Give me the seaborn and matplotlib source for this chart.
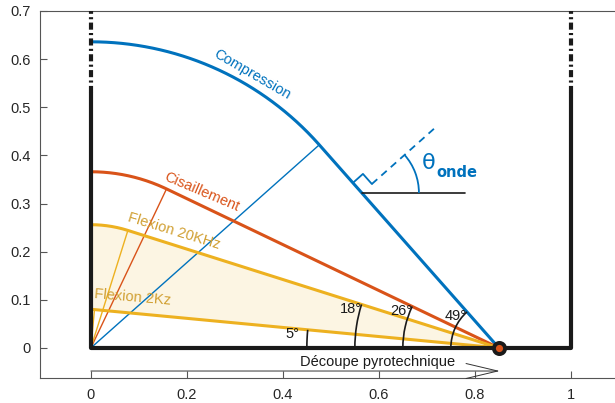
import numpy as np
import pandas as pd
import matplotlib
matplotlib.use("Agg")
import matplotlib.pyplot as plt
import seaborn as sns
from matplotlib.patches import Arc

# Wave fronts emitted from the pyrotechnic cut source
WAVE_NAMES = ["Compression", "Cisaillement", "Flexion 20KHz", "Flexion 2Kz"]
FRONT_RADIUS = [0.636, 0.366, 0.256, 0.080]
WAVE_COLORS = ["#0072BD", "#D95319", "#EDB120", "#EDB120"]
TEXT_COLORS = ["#0072BD", "#D95319", "#D1A033", "#D1A033"]
ANGLE_LABELS = ["49°", "26°", "18°", "5°"]
ARC_RADIUS = [0.1, 0.2, 0.3, 0.4]
SOURCE_X = 0.85
WALL_TOP = 0.53
X_TICKS = [0, 0.2, 0.4, 0.6, 0.8, 1]
X_TICK_LABELS = ["0", "0.2", "0.4", "0.6", "0.8", "1"]
Y_TICKS = [0, 0.1, 0.2, 0.3, 0.4, 0.5, 0.6, 0.7]
Y_TICK_LABELS = ["0", "0.1", "0.2", "0.3", "0.4", "0.5", "0.6", "0.7"]
ONDE_Y = 0.322

sns.set_theme(style="white")
plt.rcParams["font.family"] = ["Liberation Sans", "DejaVu Sans"]


def front(r, s=SOURCE_X):
    """Circle of radius r around origin, closed by its tangent to the source."""
    phi = np.arccos(r / s)
    t = np.linspace(np.pi / 2, phi, 200)
    x = np.append(r * np.cos(t), s)
    y = np.append(r * np.sin(t), 0.0)
    return x, y, np.degrees(np.arcsin(r / s))


fig = plt.figure(figsize=(6.15, 4.03), dpi=100)
ax = fig.add_axes([40 / 615, 25 / 403, 575 / 615, 367 / 403])

fronts = [front(r) for r in FRONT_RADIUS]

# shaded band between the two flexion fronts
xg = np.linspace(0, SOURCE_X, 400)
y_hi = np.interp(xg, fronts[2][0], fronts[2][1])
y_lo = np.interp(xg, fronts[3][0], fronts[3][1])
ax.fill_between(xg, y_lo, y_hi, color="#EDB120", alpha=0.12, lw=0, zorder=1)

for (x, y, ang), name, col in zip(fronts, WAVE_NAMES, WAVE_COLORS):
    # radius from origin to tangent point
    ax.plot([0, x[-2]], [0, y[-2]], color=col, lw=1.0, zorder=2)
    df = pd.DataFrame({"x": x, "y": y})
    sns.lineplot(data=df, x="x", y="y", sort=False, color=col, lw=2.2,
                 ax=ax, zorder=3)

# walls and cut line
ax.plot([0, 1], [0, 0], color="k", lw=3, zorder=4, solid_capstyle="butt")
for xw in [0, 1]:
    ax.plot([xw, xw], [0, WALL_TOP], color="k", lw=3, zorder=4)
    ax.plot([xw, xw], [WALL_TOP, 0.7], color="k", lw=3, zorder=4,
            linestyle=(0, (1.7, 0.8, 0.5, 0.8)))

# angle arcs at the source
for (x, y, ang), rad, lab in zip(fronts, ARC_RADIUS, ANGLE_LABELS):
    ax.add_patch(Arc((SOURCE_X, 0), 2 * rad, 2 * rad, theta1=180 - ang,
                     theta2=180, color="k", lw=1.2, zorder=5))
    ex = SOURCE_X - rad * np.cos(np.radians(ang))
    ey = rad * np.sin(np.radians(ang))
    dx = -0.018 if ang < 10 else 0.0
    ax.text(ex + dx, ey - 0.009, lab, ha="right", va="center", fontsize=10.5,
            color="#1a1a1a", zorder=6)

ax.plot(SOURCE_X, 0, "o", ms=8, mfc="#D95319", mec="k", mew=2.8, zorder=7)

# wave labels
ax.text(0.336, 0.568, WAVE_NAMES[0], color=TEXT_COLORS[0], fontsize=10.5,
        rotation=-30, ha="center", va="center", rotation_mode="anchor")
ax.text(0.231, 0.324, WAVE_NAMES[1], color=TEXT_COLORS[1], fontsize=10.5,
        rotation=-23, ha="center", va="center", rotation_mode="anchor")
ax.text(0.173, 0.243, WAVE_NAMES[2], color=TEXT_COLORS[2], fontsize=10.5,
        rotation=-17, ha="center", va="center", rotation_mode="anchor")
ax.text(0.088, 0.104, WAVE_NAMES[3], color=TEXT_COLORS[3], fontsize=10.5,
        rotation=-5, ha="center", va="center", rotation_mode="anchor")

# theta_onde construction on the compression front
ang_c = np.radians(fronts[0][2])
px = SOURCE_X - ONDE_Y / np.tan(ang_c)
n = np.array([np.sin(ang_c), np.cos(ang_c)])
u = np.array([-np.cos(ang_c), np.sin(ang_c)])
P = np.array([px, ONDE_Y])
ax.plot([px, 0.779], [ONDE_Y, ONDE_Y], color="k", lw=1.2, zorder=5)
a = 0.028
sq = np.array([P + a * u, P + a * u + a * n, P + a * n])
ax.plot(sq[:, 0], sq[:, 1], color="#0072BD", lw=1.3, zorder=5)
d0, d1 = P + a * n, P + 0.208 * n
ax.plot([d0[0], d1[0]], [d0[1], d1[1]], color="#0072BD", lw=1.3,
        linestyle=(0, (4, 3)), zorder=5)
ax.add_patch(Arc(P, 0.238, 0.238, theta1=0, theta2=90 - fronts[0][2],
                 color="#0072BD", lw=1.3, zorder=5))
ax.text(0.690, 0.385, "θ", color="#0072BD", fontsize=16, ha="left",
        va="center", family=["DejaVu Sans"])
ax.text(0.719, 0.364, "onde", color="#0072BD", fontsize=10.5, ha="left",
        va="center", fontweight="bold", family=["DejaVu Sans"])

# cut direction arrow
ax.annotate("", xy=(0.852, -0.048), xytext=(0, -0.048),
            arrowprops=dict(arrowstyle="->,head_length=1.9,head_width=0.45",
                            lw=0.7, color="#333333", shrinkA=0, shrinkB=0))
ax.text(0.598, -0.029, "Découpe pyrotechnique", ha="center", va="center",
        fontsize=10.5, color="#1a1a1a")

ax.set_xlim(-0.106, 1.092)
ax.set_ylim(-0.0625, 0.7)
ax.set_xticks(X_TICKS)
ax.set_xticklabels(X_TICK_LABELS)
ax.set_yticks(Y_TICKS)
ax.set_yticklabels(Y_TICK_LABELS)
ax.set_xlabel("")
ax.set_ylabel("")
ax.tick_params(direction="in", length=5, width=0.8, color="#555555",
               labelsize=10.5, labelcolor="#262626", pad=7,
               bottom=True, left=True, top=False, right=False)
for side in ["left", "bottom", "top"]:
    ax.spines[side].set_color("#555555")
    ax.spines[side].set_linewidth(0.8)
ax.spines["right"].set_visible(False)

fig.savefig("out.png", dpi=100)
